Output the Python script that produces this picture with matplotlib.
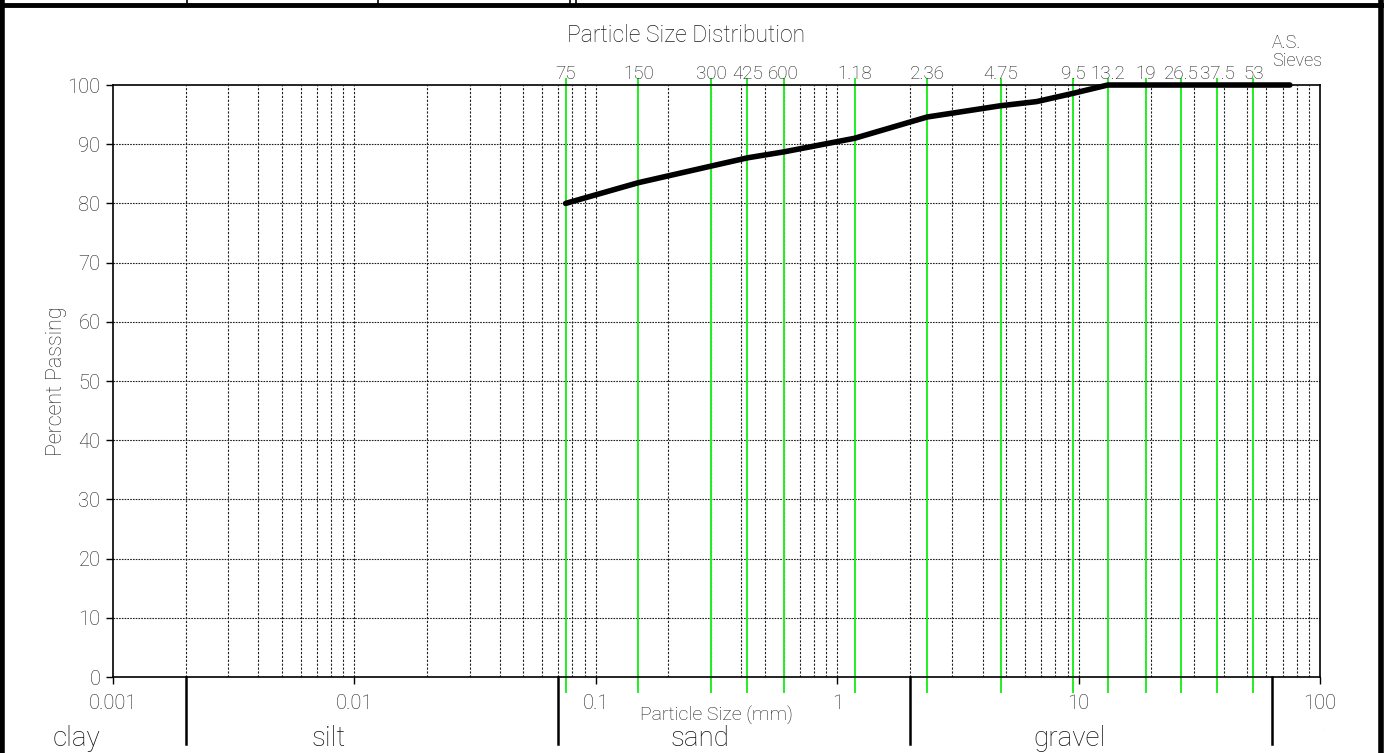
import numpy as np
import matplotlib
matplotlib.use("Agg")
import matplotlib.pyplot as plt
from matplotlib.lines import Line2D

plt.rcParams['font.family'] = ['Roboto', 'DejaVu Sans']
plt.rcParams['font.weight'] = 'light'
plt.rcParams['axes.labelweight'] = 'light'

# grading curve (particle size mm, percent passing)
size_mm = [0.075, 0.15, 0.3, 0.425, 0.6, 1.18, 2.36, 4.75, 6.7, 9.5, 13.2, 19, 26.5, 37.5, 53, 75]
passing = [80, 83.5, 86.3, 87.7, 88.7, 91.0, 94.6, 96.5, 97.2, 98.6, 100, 100, 100, 100, 100, 100]

# A.S. sieves shown as green lines
sieves = [0.075, 0.15, 0.3, 0.425, 0.6, 1.18, 2.36, 4.75, 9.5, 13.2, 19, 26.5, 37.5, 53]
sieve_labels = ['75', '150', '300', '425', '600', '1.18', '2.36', '4.75', '9.5', '13.2', '19', '26.5', '37.5', '53']

# soil classes: names, label positions (fraction of figure width), boundaries (mm)
class_names = ['clay', 'silt', 'sand', 'gravel']
class_label_x = [0.0556, 0.2377, 0.5058, 0.7731]
class_bounds = [0.002, 0.07, 2.0, 63]

txt = '#1e1e1e'

fig = plt.figure(figsize=(13.84, 7.53), dpi=100)
ax = fig.add_axes([0.0816, 0.1009, 0.8722, 0.7862])

ax.set_xscale('log')
ax.set_xlim(0.001, 100)
ax.set_ylim(0, 100)

# gridlines: every minor division on x, every 10 on y
for d in [0.001, 0.01, 0.1, 1, 10]:
    for m in range(1, 10):
        v = d * m
        if v <= 0.001 or v >= 100:
            continue
        ax.axvline(v, color='#202020', lw=0.8, ls=(0, (2, 1.5)), zorder=1)
for yv in range(10, 100, 10):
    ax.axhline(yv, color='#202020', lw=0.8, ls=(0, (1.5, 1)), zorder=1)

# sieve lines
for s, lab in zip(sieves, sieve_labels):
    ax.plot([s, s], [-2.5, 101], color='#22ee22', lw=1.4, clip_on=False, zorder=2)
    ax.text(s, 100.4, lab, ha='center', va='bottom', fontsize=13.5, color=txt)

ax.plot(size_mm, passing, color='black', lw=4, solid_capstyle='round',
        solid_joinstyle='round', clip_on=False, zorder=3)

ax.set_xticks([0.001, 0.01, 0.1, 1, 10, 100])
ax.set_xticklabels(['0.001', '0.01', '0.1', '1', '10', '100'])
ax.xaxis.set_minor_locator(matplotlib.ticker.NullLocator())
ax.set_yticks(range(0, 101, 10))
ax.tick_params(axis='both', which='major', direction='out', length=5, width=1,
               color='black', labelsize=14.5, labelcolor=txt, pad=4)
ax.tick_params(axis='x', pad=7)
for sp in ax.spines.values():
    sp.set_linewidth(1.2)
    sp.set_color('black')

ax.set_ylabel('Percent Passing', fontsize=15.5, color=txt, labelpad=0, fontweight='light')
ax.set_xlabel('Particle Size (mm)', fontsize=14, color=txt, labelpad=-5, fontweight='light')

fig.text(0.496, 0.953, 'Particle Size Distribution', ha='center', va='center',
         fontsize=16.5, color=txt)
fig.text(0.919, 0.931, 'A.S.\nSieves', ha='left', va='center', fontsize=13,
         color=txt, linespacing=1.0)

# soil class boundaries and names under the axis
for b in class_bounds:
    ax.plot([b, b], [0, -11.3], color='black', lw=1.8, clip_on=False)
for name, cx in zip(class_names, class_label_x):
    fig.text(cx, 0.019, name, ha='center', va='center', fontsize=20, color='#111111')
fig.text(0.957, 0.030, '···', ha='center', va='center', fontsize=6, color='#bbbbbb')

# frame remnants of the sheet
W, H = 1384, 753
def fline(x0, y0, x1, y1, lw):
    fig.add_artist(Line2D([x0 / W, x1 / W], [1 - y0 / H, 1 - y1 / H], color='black',
                          lw=lw, transform=fig.transFigure))
fline(0, 4.5, W, 4.5, 3.5)
fline(2, 0, 2, H, 4)
fline(W - 3, 0, W - 3, H, 4)
for x in [187, 378, 570, 576]:
    fline(x, 0, x, 4, 1.2)

fig.savefig('out.png', dpi=100)
